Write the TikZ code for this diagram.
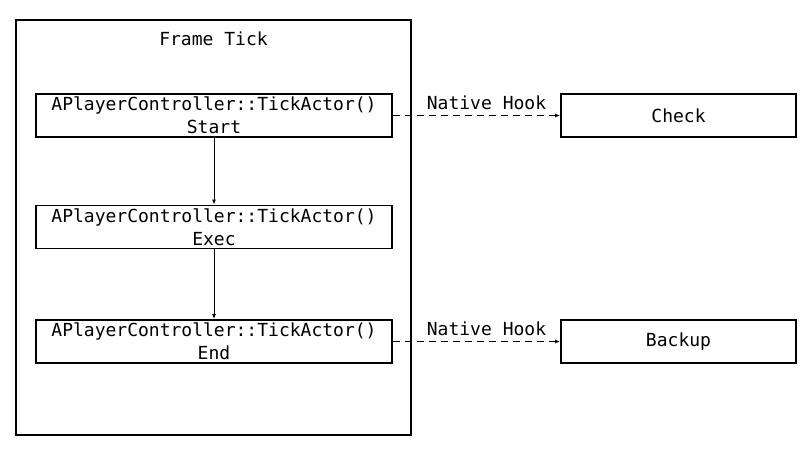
\documentclass[tikz,border=0pt]{standalone}
\usepackage{fontspec}
\setmonofont{DejaVu Sans Mono}
\usetikzlibrary{arrows.meta}
\begin{document}
\begin{tikzpicture}[x=1pt,y=-1pt,
  font=\ttfamily\fontsize{18}{23}\selectfont,
  box/.style={draw,line width=1.8pt,inner sep=0pt},
  conn/.style={line width=1pt,-{Latex[length=5pt,width=4pt]}},
  hook/.style={conn,dashed,dash pattern=on 7pt off 5pt,line width=1.5pt},
  hooklabel/.style={above=3pt,xshift=10pt,inner sep=2pt}]
\useasboundingbox (0,0) rectangle (811,458);
\node[box,minimum width=395pt,minimum height=415pt] (frame) at (213.5,227.5) {};
\node (ftitle) at (213.5,39) {Frame Tick};
\node[box,minimum width=356pt,minimum height=43pt,align=center] (start) at (214,115.5) {APlayerController::TickActor()\\Start};
\node[box,minimum width=356pt,minimum height=43pt,align=center] (exec) at (214,227) {APlayerController::TickActor()\\Exec};
\node[box,minimum width=356pt,minimum height=43pt,align=center] (end) at (214,341.5) {APlayerController::TickActor()\\End};
\node[box,minimum width=235pt,minimum height=43pt] (check) at (678.5,115.5) {Check};
\node[box,minimum width=235pt,minimum height=43pt] (backup) at (678.5,341.5) {Backup};
\draw[conn] (start) -- (exec);
\draw[conn] (exec) -- (end);
\draw[hook] (start) -- node[hooklabel] (l1) {Native Hook} (check);
\draw[hook] (end) -- node[hooklabel] (l2) {Native Hook} (backup);
\end{tikzpicture}
\end{document}
